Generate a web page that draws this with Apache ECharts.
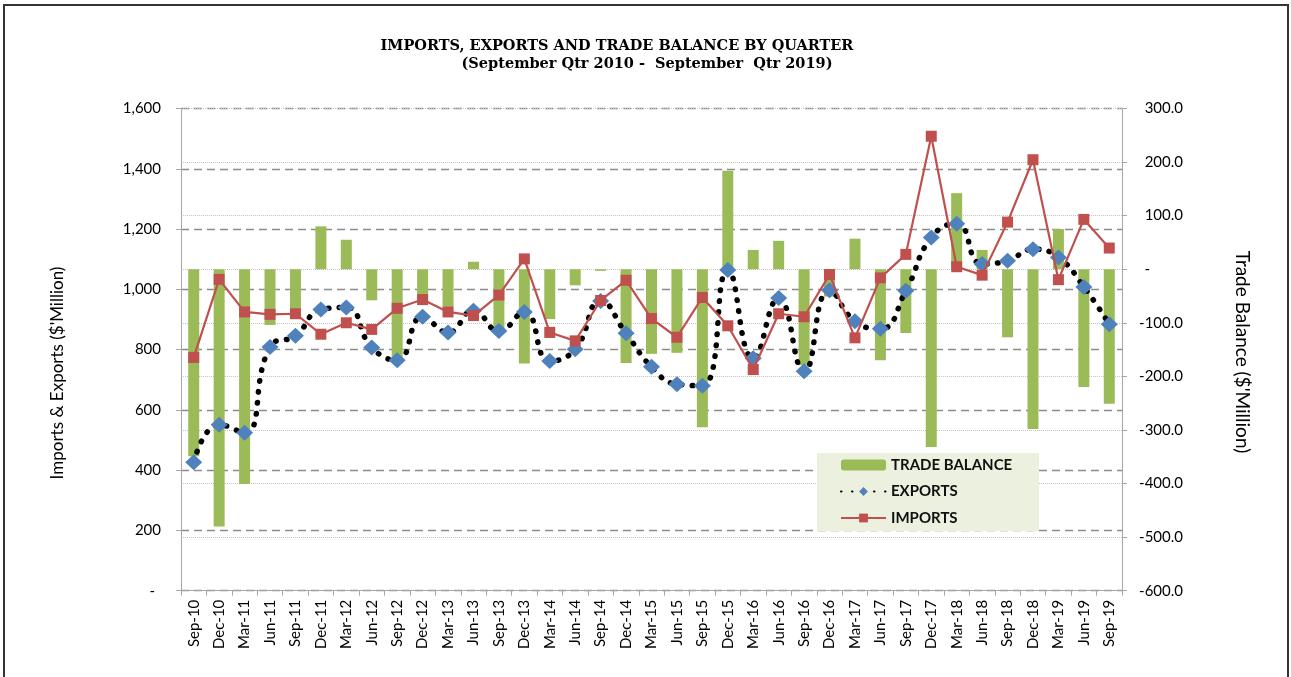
<!DOCTYPE html>
<html>
<head>
<meta charset="utf-8">
<script src="https://cdn.jsdelivr.net/npm/echarts@6/dist/echarts.min.js"></script>
<style>
  html, body { margin: 0; padding: 0; background: #ffffff; }
  #chart { width: 1291px; height: 677px; }
</style>
</head>
<body>
<div id="chart"></div>
<script>
const categories = ['Sep-10','Dec-10','Mar-11','Jun-11','Sep-11','Dec-11','Mar-12','Jun-12','Sep-12','Dec-12',
  'Mar-13','Jun-13','Sep-13','Dec-13','Mar-14','Jun-14','Sep-14','Dec-14','Mar-15','Jun-15',
  'Sep-15','Dec-15','Mar-16','Jun-16','Sep-16','Dec-16','Mar-17','Jun-17','Sep-17','Dec-17',
  'Mar-18','Jun-18','Sep-18','Dec-18','Mar-19','Jun-19','Sep-19'];

const imports = [774, 1033, 925, 917, 919, 851, 889, 867, 937, 966,
  925, 913, 981, 1101, 857, 829, 963, 1030, 903, 841,
  973, 879, 734, 919, 909, 1049, 839, 1038, 1116, 1508,
  1075, 1047, 1223, 1430, 1032, 1232, 1137];

const exportsData = [426, 551, 524, 809, 846, 933, 940, 807, 765, 909,
  857, 929, 862, 925, 762, 801, 961, 854, 743, 685,
  680, 1064, 771, 971, 728, 997, 894, 869, 995, 1172,
  1218, 1084, 1095, 1133, 1106, 1008, 884];

const tradeBalance = [-349, -480, -401, -104, -74, 80, 55, -58, -170, -55,
  -70, 14, -116, -176, -93, -30, -3, -175, -158, -156,
  -295, 184, 36, 53, -179, -51, 57, -170, -119, -332,
  142, 36, -127, -298, 75, -220, -251];

const leftTicks = { min: 0, max: 1600, interval: 200 };
const rightTicks = { min: -600, max: 300, interval: 100 };

const titleLine1 = 'IMPORTS, EXPORTS AND TRADE BALANCE BY QUARTER';
const titleLine2 = '(September Qtr 2010 -  September  Qtr 2019)';
const leftName = "Imports & Exports ($'Million)";
const rightName = "Trade Balance ($'Million)";

const chart = echarts.init(document.getElementById('chart'), null, { renderer: 'canvas' });

const fontFam = 'Lato, "Open Sans", sans-serif';
const titleFont = 'bold 14.5px "DejaVu Serif", "Liberation Serif", serif';

const option = {
  backgroundColor: '#ffffff',
  animation: false,
  grid: { left: 181, right: 169, top: 108.5, bottom: 86.3, containLabel: false },
  legend: {
    orient: 'vertical',
    left: 840,
    top: 457,
    padding: 0,
    itemGap: 10.5,
    itemWidth: 45,
    itemHeight: 11,
    z: 10,
    textStyle: { fontFamily: fontFam, fontSize: 15, fontWeight: 'bold', color: '#111', lineHeight: 16 },
    data: ['TRADE BALANCE', 'EXPORTS', 'IMPORTS']
  },
  xAxis: {
    type: 'category',
    data: categories,
    boundaryGap: true,
    axisLine: { lineStyle: { color: '#a6a6a6', width: 1 } },
    axisTick: { show: true, alignWithLabel: false, length: 5, lineStyle: { color: '#a6a6a6' } },
    axisLabel: { interval: 0, rotate: 90, margin: 9, fontFamily: fontFam, fontSize: 15, color: '#000' },
    splitLine: { show: false }
  },
  yAxis: [
    {
      type: 'value',
      position: 'left',
      min: leftTicks.min, max: leftTicks.max, interval: leftTicks.interval,
      axisLine: { show: true, lineStyle: { color: '#a6a6a6' } },
      axisTick: { show: true, length: 5, lineStyle: { color: '#a6a6a6' } },
      axisLabel: {
        margin: 20, fontFamily: fontFam, fontSize: 15, color: '#000',
        formatter: function (v) { return v === 0 ? '{z|-}' : v.toLocaleString('en-US'); },
        rich: { z: { fontFamily: fontFam, fontSize: 15, color: '#000', padding: [0, 6, 0, 0] } }
      },
      splitLine: { show: true, lineStyle: { color: '#8c8c8c', type: [8, 5], width: 1.3 } }
    },
    {
      type: 'value',
      position: 'right',
      min: rightTicks.min, max: rightTicks.max, interval: rightTicks.interval,
      axisLine: { show: true, lineStyle: { color: '#a6a6a6' } },
      axisTick: { show: true, length: 5, lineStyle: { color: '#a6a6a6' } },
      axisLabel: {
        margin: 61, align: 'right', fontFamily: fontFam, fontSize: 15, color: '#000',
        formatter: function (v) { return v === 0 ? '{z|-}' : v.toFixed(1); },
        rich: { z: { fontFamily: fontFam, fontSize: 15, color: '#000', padding: [0, 33, 0, 0] } }
      },
      splitLine: { show: true, lineStyle: { color: '#c4c4c4', type: 'dotted', width: 1 } }
    }
  ],
  series: [
    {
      name: 'TRADE BALANCE',
      type: 'bar',
      yAxisIndex: 1,
      data: tradeBalance,
      barWidth: 11,
      itemStyle: { color: '#9BBB59' },
      z: 2
    },
    {
      name: 'EXPORTS',
      type: 'line',
      yAxisIndex: 0,
      data: exportsData,
      smooth: 0.5,
      symbol: 'diamond',
      symbolSize: [17, 16],
      itemStyle: { color: '#4F81BD' },
      lineStyle: { color: '#000000', width: 5.5, type: [0.5, 10.5], cap: 'round' },
      z: 3
    },
    {
      name: 'IMPORTS',
      type: 'line',
      yAxisIndex: 0,
      data: imports,
      smooth: false,
      symbol: 'rect',
      symbolSize: 11,
      itemStyle: { color: '#C0504D' },
      lineStyle: { color: '#C0504D', width: 2.2 },
      z: 4
    }
  ],
  graphic: [
    {
      type: 'rect', z: 0, silent: true,
      shape: { x: 4, y: 5, width: 1284, height: 700 },
      style: { fill: 'none', stroke: '#333', lineWidth: 2 }
    },
    {
      type: 'rect', z: 5, silent: true,
      shape: { x: 817, y: 453, width: 222, height: 78 },
      style: { fill: '#EBF1DE', stroke: 'none' }
    },
    {
      type: 'text', z: 5, x: 617, y: 46,
      style: { text: titleLine1, fill: '#000', font: titleFont, textAlign: 'center', textVerticalAlign: 'middle' }
    },
    {
      type: 'text', z: 5, x: 647, y: 64,
      style: { text: titleLine2, fill: '#000', font: titleFont, textAlign: 'center', textVerticalAlign: 'middle' }
    },
    {
      type: 'text', z: 5, x: 58, y: 373, rotation: Math.PI / 2,
      style: { text: leftName, fill: '#000', font: '17px Lato, sans-serif', textAlign: 'center', textVerticalAlign: 'middle' }
    },
    {
      type: 'text', z: 5, x: 1242, y: 352, rotation: -Math.PI / 2,
      style: { text: rightName, fill: '#000', font: '19px Lato, sans-serif', textAlign: 'center', textVerticalAlign: 'middle' }
    }
  ]
};

chart.setOption(option);
</script>
</body>
</html>
